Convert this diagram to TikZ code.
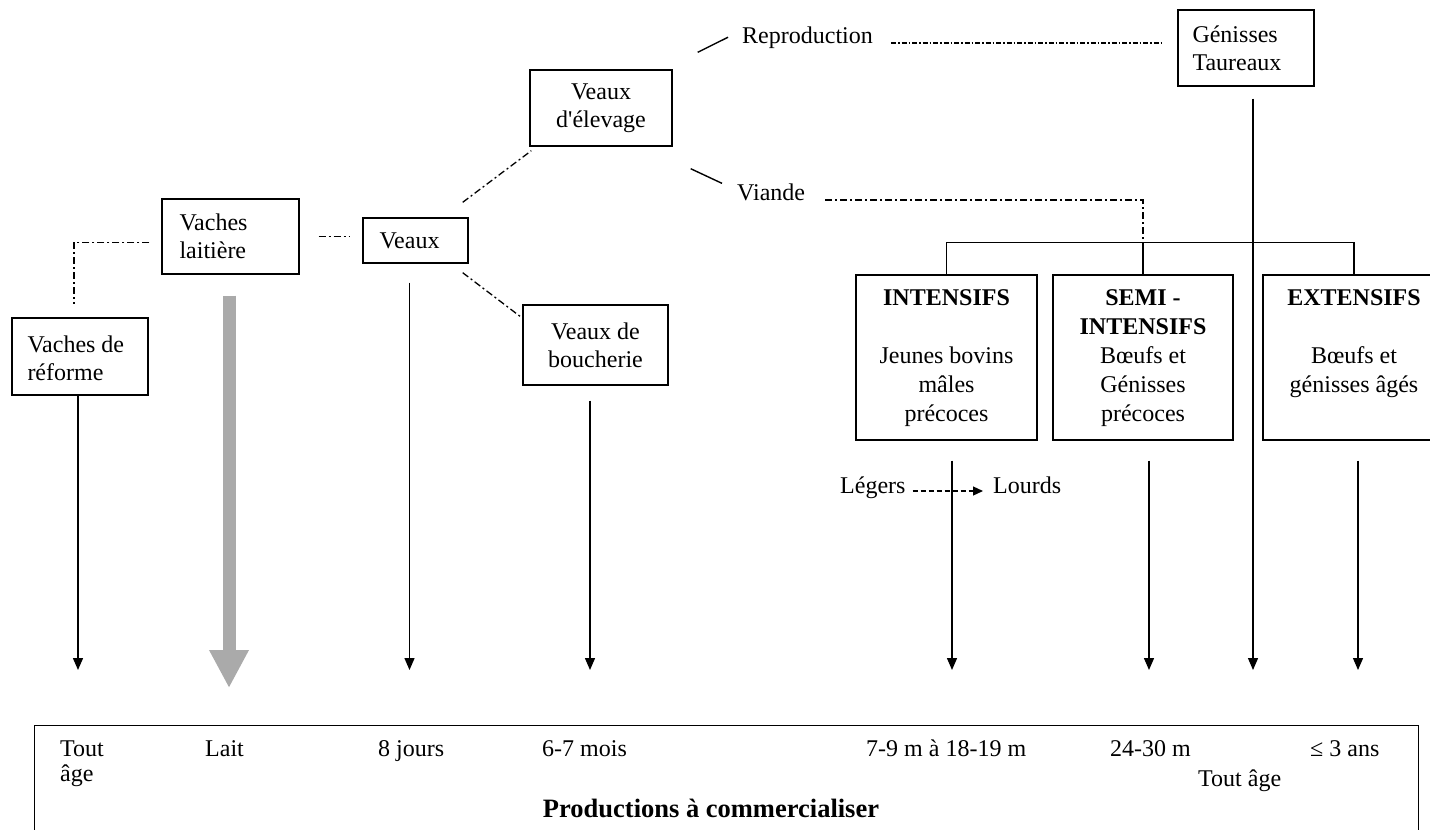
\documentclass[tikz,border=0pt]{standalone}
\usepackage{fontspec}
\setmainfont{Liberation Serif}[Ligatures=TeXOff]
\usetikzlibrary{arrows.meta}
\definecolor{arrgray}{RGB}{170,170,170}
\begin{document}
\begin{tikzpicture}[x=1pt,y=-1pt,
  every node/.style={font=\fontsize{24}{28}\selectfont, inner sep=0pt},
  box/.style={draw, line width=1.4pt},
  inl/.style={align=left, anchor=west},
  dd/.style={line width=1.3pt, dash pattern=on 7pt off 3pt on 2pt off 3pt},
  ddf/.style={line width=1.3pt, dash pattern=on 5pt off 2pt on 1.5pt off 2pt},
  ln/.style={line width=1.4pt},
  arr/.style={line width=1.4pt, -{Triangle[length=12pt,width=10pt]}},
  rtext/.style={align=center, font=\fontsize{24}{29}\selectfont},
  bold/.style={font=\bfseries\fontsize{26.5}{30}\selectfont}]
\useasboundingbox (0,0) rectangle (1430,830);
\fill[white] (0,0) rectangle (1430,830);

% boxes
\node[box, minimum width=136pt, minimum height=77pt] (reforme) at (80,356.5) {};
\node[inl] (reformeT) at ([xshift=16pt,yshift=-2pt]reforme.west) {Vaches de\\réforme};
\node[box, minimum width=137pt, minimum height=75pt] (laitiere) at (230.5,236.5) {};
\node[inl] (laitiereT) at ([xshift=18pt]laitiere.west) {Vaches\\laitière};
\node[box, minimum width=105pt, minimum height=45pt] (veaux) at (415.5,240.5) {};
\node[inl] (veauxT) at ([xshift=17pt]veaux.west) {Veaux};
\node[box, minimum width=142pt, minimum height=76pt, align=center] (elevage) at (601,108) {Veaux\\d'élevage};
\node[box, minimum width=145pt, minimum height=80pt, align=center] (boucherie) at (595.5,345) {Veaux de\\boucherie};
\node[box, minimum width=136pt, minimum height=76pt] (genisses) at (1246,48) {};
\node[inl] (genissesT) at ([xshift=15pt]genisses.west) {Génisses\\Taureaux};

\node[box, minimum width=181pt, minimum height=165pt] (int) at (946.5,357.5) {};
\node[box, minimum width=180pt, minimum height=165pt] (semi) at (1143,357.5) {};
\node[box, minimum width=182pt, minimum height=165pt] (ext) at (1354,357.5) {};
\node[rtext, anchor=north] (intT) at (946.5,289) {\textbf{INTENSIFS}\\[29pt]Jeunes bovins\\mâles\\précoces};
\node[rtext, anchor=north] (semiT) at (1143,289) {\textbf{SEMI -}\\\textbf{INTENSIFS}\\Bœufs et\\Génisses\\précoces};
\node[rtext, anchor=north] (extT) at (1354,289) {\textbf{EXTENSIFS}\\[29pt]Bœufs et\\génisses âgés};

% labels
\node[anchor=base west] (repro) at (742,43) {Reproduction};
\node[anchor=base west] (viande) at (737,200) {Viande};
\node[anchor=base west] (legers) at (840,493) {Légers};
\node[anchor=base west] (lourds) at (993,493) {Lourds};

% bottom box
\node[box, minimum width=1384pt, minimum height=130pt, anchor=north west] (prod) at (34,725) {};
\node[anchor=base west] (b1) at (60,756) {Tout};
\node[anchor=base west] (b1b) at (60,781) {âge};
\node[anchor=base west] (b2) at (205,756) {Lait};
\node[anchor=base west] (b3) at (378,756) {8 jours};
\node[anchor=base west] (b4) at (542,756) {6-7 mois};
\node[anchor=base west] (b5) at (866,756) {7-9 m à 18-19 m};
\node[anchor=base west] (b6) at (1110,756) {24-30 m};
\node[anchor=base west] (b7) at (1310,756) {≤ 3 ans};
\node[anchor=base west] (b8) at (1198,786) {Tout âge};
\node[bold, anchor=base] (title) at (711,817) {Productions à commercialiser};

\coordinate (tip) at (0,670);

% dash-dot links
\draw[dd] ([xshift=19pt]laitiere.east) -- ([xshift=-13pt]veaux.west |- laitiere.east);
\draw[dd] ([xshift=-12pt,yshift=-6pt]laitiere.west) -| ([xshift=-6pt,yshift=13pt]reforme.north);
\draw[dd] ([xshift=-6pt,yshift=15pt]veaux.north east) -- ([xshift=2pt,yshift=-4pt]elevage.south west);
\draw[dd] ([xshift=-6pt,yshift=-9pt]veaux.south east) -- ([xshift=-1pt,yshift=-13pt]boucherie.north west);
\draw[ddf] ([xshift=18pt]repro.base east) -- ([xshift=-15pt]genisses.west |- repro.base);
\draw[dd] ([xshift=20pt]viande.base east) -| ([yshift=32pt]semi.north);

% solid short links
\draw[ln] ([xshift=25pt,yshift=17pt]elevage.north east) -- ([xshift=-14pt]repro.west);
\draw[ln] ([xshift=18pt,yshift=-22pt]elevage.south east) -- ([xshift=-15pt,yshift=8.5pt]viande.west);

% bracket
\draw[ln] (int.north) -- ++(0,-32) -| (ext.north);
\draw[ln] ([yshift=32pt]semi.north) -- (semi.north);

% arrows
\draw[arr] ([xshift=-2pt]reforme.south) -- ([xshift=-2pt]reforme.south |- tip);
\draw[line width=13pt, arrgray, -{Triangle[length=38pt,width=37pt]}] ([xshift=-1.5pt,yshift=-21pt]laitiere.south) -- ([xshift=-1.5pt,yshift=-18pt]laitiere.south |- tip);
\draw[arr] ([xshift=-6pt,yshift=-19pt]veaux.south) -- ([xshift=-6pt]veaux.south |- tip);
\draw[arr] ([xshift=-5.5pt,yshift=-15pt]boucherie.south) -- ([xshift=-5.5pt]boucherie.south |- tip);
\draw[arr] ([xshift=5.5pt,yshift=-20pt]int.south) -- ([xshift=5.5pt]int.south |- tip);
\draw[arr] ([xshift=6pt,yshift=-20pt]semi.south) -- ([xshift=6pt]semi.south |- tip);
\draw[arr] ([xshift=7pt,yshift=-12pt]genisses.south) -- ([xshift=7pt]genisses.south |- tip);
\draw[arr] ([xshift=4pt,yshift=-20pt]ext.south) -- ([xshift=4pt]ext.south |- tip);

% legers -> lourds
\draw[line width=1.2pt, dash pattern=on 5pt off 3pt, -{Triangle[length=10pt,width=9pt]}] ([xshift=7pt,yshift=2pt]legers.base east) -- ([xshift=-10pt,yshift=2pt]lourds.base west);
\end{tikzpicture}
\end{document}
